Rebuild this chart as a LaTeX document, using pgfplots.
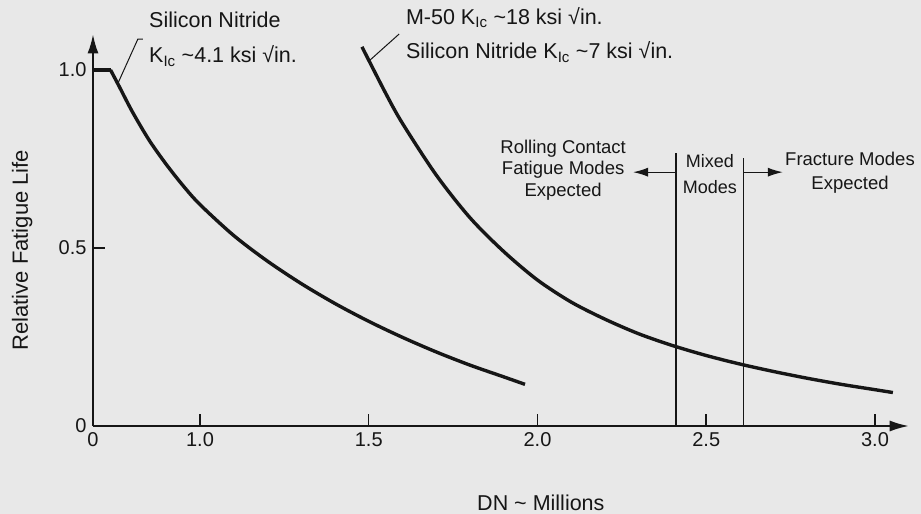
\documentclass[border=0pt]{standalone}
\usepackage{pgfplots}
\pgfplotsset{compat=1.18}
\usepackage{fontspec}
\setmainfont{Liberation Sans}
\usetikzlibrary{arrows.meta}
\definecolor{bg}{RGB}{232,232,232}
\definecolor{ink}{RGB}{22,22,22}
\newcommand\fa{\fontsize{21.5bp}{24bp}\selectfont}
\newcommand\ft{\fontsize{20bp}{24bp}\selectfont}

\begin{document}
\begin{tikzpicture}
\path[use as bounding box, fill=bg] (-93bp,-88bp) rectangle (828bp,426bp);
\begin{axis}[
  at={(0,0)}, anchor=south west,
  x=337.5bp, y=356bp,
  xmin=0.683, xmax=3.1, ymin=0, ymax=1.1,
  axis lines=left,
  axis line style={ink, line width=1.8bp, -{Latex[length=19bp,width=11bp]}},
  xtick={1,1.5,2,2.5,3}, xticklabels={1.0,1.5,2.0,2.5,3.0},
  ytick={0.5,1}, yticklabels={0.5,1.0},
  extra x ticks={0.683}, extra x tick labels={0},
  extra y ticks={0}, extra y tick labels={0},
  extra tick style={major tick length=0pt},
  tick align=inside, major tick length=12bp,
  tick style={ink, line width=1.5bp},
  ticklabel style={font=\ft, text=ink},
  xticklabel style={yshift=-3bp},
  yticklabel style={xshift=-3bp},
  /pgf/number format/assume math mode=true,
  clip=false,
]
% Silicon Nitride, K_Ic ~4.1
\addplot[ink, line width=3.4bp] coordinates {(0.683,1.0) (0.735,1.0)};
\addplot[ink, line width=3.4bp, smooth] coordinates {
(0.735,1.0) (0.76,0.955) (0.80,0.882) (0.85,0.802) (0.90,0.735) (0.95,0.675)
(1.0,0.622) (1.1,0.535) (1.2,0.463) (1.3,0.400) (1.4,0.344) (1.5,0.294)
(1.6,0.249) (1.7,0.208) (1.8,0.171) (1.9,0.138) (1.963,0.117)};
% M-50 / Silicon Nitride K_Ic ~7-18
\addplot[ink, line width=3.4bp, smooth] coordinates {
(1.48,1.065) (1.55,0.935) (1.6,0.85) (1.7,0.705) (1.8,0.585) (1.9,0.49)
(2.0,0.41) (2.1,0.348) (2.2,0.300) (2.3,0.259) (2.4,0.226) (2.5,0.198)
(2.6,0.174) (2.7,0.153) (2.8,0.134) (2.9,0.117) (3.0,0.102) (3.053,0.094)};

% mode boundaries
\draw[ink, line width=1.3bp] (axis cs:2.41,0) -- (axis cs:2.41,0.767);
\draw[ink, line width=1.3bp] (axis cs:2.61,0) -- (axis cs:2.61,0.753);
\draw[ink, line width=1.3bp, -{Latex[length=15bp,width=9bp]}] (axis cs:2.41,0.713) -- (axis cs:2.283,0.713);
\draw[ink, line width=1.3bp, -{Latex[length=15bp,width=9bp]}] (axis cs:2.61,0.713) -- (axis cs:2.727,0.713);
\node[align=center, text=ink, font=\fontsize{18.5bp}{21.7bp}\selectfont] at (axis cs:2.076,0.719) {Rolling Contact\\Fatigue Modes\\Expected};
\node[align=center, text=ink, font=\fontsize{18bp}{26bp}\selectfont] at (axis cs:2.511,0.708) {Mixed\\Modes};
\node[align=center, text=ink, font=\fontsize{18.5bp}{24.3bp}\selectfont] at (axis cs:2.926,0.711) {Fracture Modes\\Expected};

% curve labels
\node[anchor=base west, text=ink, font=\fa, inner sep=0pt] at (axis cs:0.849,1.118) {Silicon Nitride};
\node[anchor=base west, text=ink, font=\fa, inner sep=0pt] at (axis cs:0.849,1.020) {K\textsubscript{Ic} \textasciitilde4.1 ksi √in.};
\draw[ink, line width=1bp] (axis cs:0.757,0.963) -- (axis cs:0.816,1.087) -- (axis cs:0.831,1.087);
\node[anchor=base west, text=ink, font=\fa, inner sep=0pt] at (axis cs:1.610,1.129) {M-50 K\textsubscript{Ic} \textasciitilde18 ksi √in.};
\node[anchor=base west, text=ink, font=\fa, inner sep=0pt] at (axis cs:1.610,1.031) {Silicon Nitride K\textsubscript{Ic} \textasciitilde7 ksi √in.};
\draw[ink, line width=1bp] (axis cs:1.504,1.028) -- (axis cs:1.590,1.101);

% axis titles
\node[text=ink, font=\fontsize{21.5bp}{24bp}\selectfont] at (axis cs:2.010,-0.216) {DN \textasciitilde{} Millions};
\node[text=ink, rotate=90, font=\fontsize{22bp}{24bp}\selectfont] at (axis cs:0.473,0.494) {Relative Fatigue Life};
\end{axis}
\end{tikzpicture}
\end{document}
